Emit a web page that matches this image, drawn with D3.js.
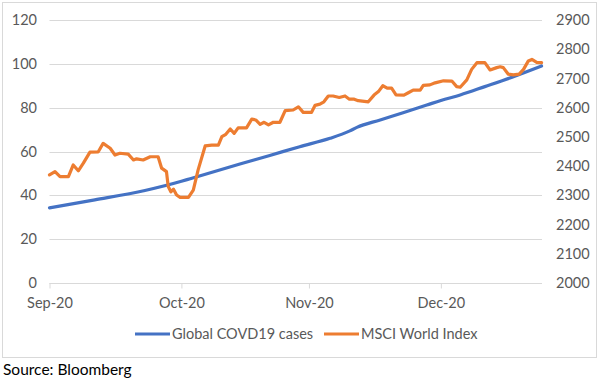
<!DOCTYPE html>
<html><head><meta charset="utf-8">
<script src="https://cdn.jsdelivr.net/npm/d3@7"></script>
<style>
html,body{margin:0;padding:0;background:#fff;}
svg{display:block;font-family:Lato,"Open Sans",sans-serif;}
</style></head>
<body>
<svg id="chart" width="600" height="379"></svg>
<script>
// ---- data ----
const tickLabels = ["Sep-20", "Oct-20", "Nov-20", "Dec-20"];
const tickDays = [0, 30, 59, 89];           // day offset from 1 Sep where labels sit
const leftTicks = [0, 20, 40, 60, 80, 100, 120];
const rightTicks = [2000, 2100, 2200, 2300, 2400, 2500, 2600, 2700, 2800, 2900];

const covidDay   = [0, 10.3, 21.7, 30, 32, 43.3, 50.1, 56.9, 63.8, 68.3, 69.9, 75.2, 80.4, 85.8, 89, 93.4, 99, 105.2, 111.9];
const covidCases = [34.3, 37.9, 42.2, 46.4, 47.6, 54.3, 58.2, 62.2, 66.0, 69.4, 71.0, 74.4, 77.7, 81.2, 83.3, 85.8, 89.6, 93.9, 99.0];

const msciDay = [0, 1.25, 2.4, 4.3, 5.4, 6.55, 7.7, 9.2, 11.1, 12.2, 13.8, 14.9, 16.0, 17.9, 19.1, 19.8, 21.3, 22.9, 24.7, 25.5,
  26.6, 27.0, 27.6, 28.2, 28.9, 29.7, 31.6, 32.7, 33.8, 35.4, 36.9, 38.4, 39.2, 40.1, 41.1, 42.0, 42.9, 44.8, 46.0, 46.9,
  47.9, 48.8, 49.8, 50.9, 52.4, 53.6, 55.4, 56.6, 57.7, 59.6, 60.4, 61.5, 62.4, 63.4, 64.5, 65.9, 67.2, 68.2, 69.3, 70.2,
  72.5, 73.8, 74.8, 75.8, 76.8, 77.8, 78.8, 80.6, 81.6, 82.7, 84.3, 85.0, 86.5, 87.7, 89.6, 91.5, 92.6, 93.4, 94.9, 96.0,
  97.2, 99.0, 100.2, 101.7, 102.5, 103.2, 104.3, 105.5, 106.8, 107.8, 108.9, 109.7, 110.8, 111.9];
const msciValue = [2370, 2381, 2364, 2364, 2404, 2384, 2410, 2448, 2449, 2478, 2461, 2438, 2444, 2441, 2421, 2425, 2421, 2432, 2432, 2393,
  2381, 2330, 2312, 2321, 2301, 2293, 2293, 2318, 2387, 2469, 2472, 2472, 2501, 2509, 2527, 2512, 2531, 2531, 2561, 2558,
  2543, 2550, 2541, 2550, 2550, 2590, 2592, 2603, 2584, 2584, 2608, 2612, 2620, 2640, 2640, 2635, 2640, 2629, 2629, 2624,
  2620, 2643, 2655, 2675, 2667, 2667, 2644, 2643, 2651, 2660, 2660, 2676, 2678, 2685, 2692, 2691, 2672, 2670, 2695, 2731,
  2754, 2754, 2729, 2737, 2740, 2737, 2715, 2712, 2715, 2731, 2760, 2765, 2755, 2754];

const seriesNames = ["Global COVD19 cases", "MSCI World Index"];
const seriesColors = ["#4472C4", "#ED7D31"];

// ---- layout ----
const svg = d3.select("#chart");
const plot = {left: 49.5, right: 542, top: 20, bottom: 283};
const fs = "14.5px";

const x = d3.scaleLinear().domain([0, 112]).range([plot.left, plot.right]);
const yL = d3.scaleLinear().domain([0, 120]).range([plot.bottom, plot.top]);
const yR = d3.scaleLinear().domain([2000, 2900]).range([plot.bottom, plot.top]);

// outer border
svg.append("rect").attr("x", 2.5).attr("y", 2.5).attr("width", 594).attr("height", 355)
  .attr("fill", "#fff").attr("stroke", "#D9D9D9").attr("stroke-width", 1);

// gridlines
svg.append("g").selectAll("line").data(leftTicks).join("line")
  .attr("x1", plot.left).attr("x2", plot.right)
  .attr("y1", d => Math.round(yL(d)) + 0.5).attr("y2", d => Math.round(yL(d)) + 0.5)
  .attr("stroke", "#D9D9D9").attr("stroke-width", 1);

// left axis labels
const leftAxis = d3.axisLeft(yL).tickValues(leftTicks).tickSize(0).tickPadding(0);
const gl = svg.append("g").attr("transform", `translate(37,0)`).call(leftAxis);
gl.select(".domain").remove();
gl.selectAll("text").attr("fill", "#595959").style("font-size", fs).style("font-family", "Lato, sans-serif");

// right axis labels
const rightAxis = d3.axisRight(yR).tickValues(rightTicks).tickFormat(d3.format("d")).tickSize(0).tickPadding(0);
const gr = svg.append("g").attr("transform", `translate(556,0)`).call(rightAxis);
gr.select(".domain").remove();
gr.selectAll("text").attr("fill", "#595959").style("font-size", fs).style("font-family", "Lato, sans-serif");

// bottom axis
const bottomAxis = d3.axisBottom(x).tickValues(tickDays).tickFormat((d, i) => tickLabels[i]).tickSize(5).tickPadding(9);
const gb = svg.append("g").attr("transform", `translate(0,${Math.round(plot.bottom) + 0.5})`).call(bottomAxis);
gb.select(".domain").attr("stroke", "#D9D9D9").attr("d", `M${plot.left},0H${plot.right}`);
gb.selectAll(".tick line").attr("stroke", "#D9D9D9");
gb.selectAll("text").attr("fill", "#595959").style("font-size", fs).style("font-family", "Lato, sans-serif");

// lines
const covid = covidDay.map((d, i) => [d, covidCases[i]]);
const msci = msciDay.map((d, i) => [d, msciValue[i]]);

svg.append("path").datum(covid)
  .attr("fill", "none").attr("stroke", seriesColors[0]).attr("stroke-width", 3.2)
  .attr("stroke-linejoin", "round").attr("stroke-linecap", "round")
  .attr("d", d3.line().x(d => x(d[0])).y(d => yL(d[1])).curve(d3.curveMonotoneX));

svg.append("path").datum(msci)
  .attr("fill", "none").attr("stroke", seriesColors[1]).attr("stroke-width", 3.2)
  .attr("stroke-linejoin", "round").attr("stroke-linecap", "round")
  .attr("d", d3.line().x(d => x(d[0])).y(d => yR(d[1])));

// legend
const legendItems = [
  {name: seriesNames[0], color: seriesColors[0], x1: 135, x2: 170, tx: 172},
  {name: seriesNames[1], color: seriesColors[1], x1: 324, x2: 359, tx: 361}
];
const lg = svg.append("g");
legendItems.forEach(it => {
  lg.append("line").attr("x1", it.x1).attr("x2", it.x2).attr("y1", 334).attr("y2", 334)
    .attr("stroke", it.color).attr("stroke-width", 3.2);
  lg.append("text").attr("x", it.tx).attr("y", 334).attr("dy", "0.35em")
    .attr("fill", "#595959").style("font-size", fs).text(it.name);
});

// source
svg.append("text").attr("x", 3).attr("y", 375).attr("fill", "#000")
  .style("font-size", "15.5px").text("Source: Bloomberg");
</script>
</body></html>
